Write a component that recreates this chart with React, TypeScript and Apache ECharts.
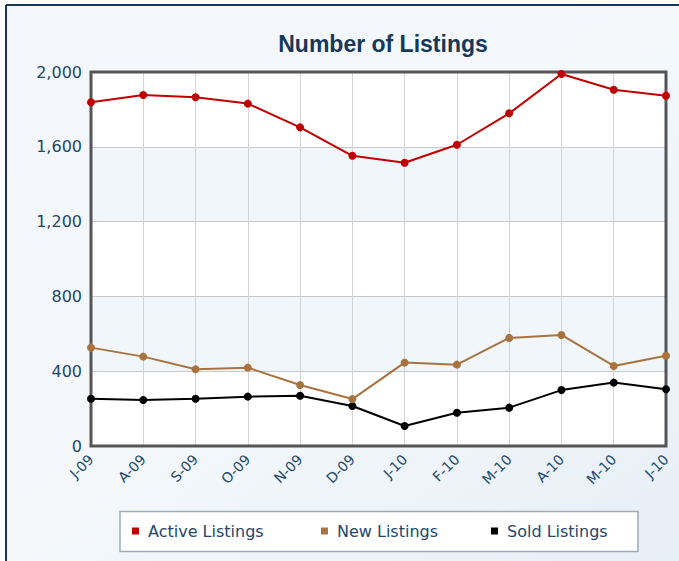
import React, { useEffect, useRef } from "react";
import * as echarts from "echarts";

const categories = ["J-09", "A-09", "S-09", "O-09", "N-09", "D-09", "J-10", "F-10", "M-10", "A-10", "M-10", "J-10"];
const activeListings = [1838, 1877, 1865, 1831, 1704, 1552, 1515, 1611, 1779, 1989, 1905, 1873];
const newListings = [526, 478, 410, 419, 326, 251, 446, 435, 578, 594, 428, 483];
const soldListings = [253, 246, 253, 264, 269, 214, 107, 178, 205, 299, 339, 303];
const seriesNames = ["Active Listings", "New Listings", "Sold Listings"];
const seriesColors = ["#c00000", "#a8733f", "#000000"];

const LABEL_COLOR = "#22476a";
const FONT = "DejaVu Sans, Verdana, sans-serif";

export default function App() {
  const ref = useRef<HTMLDivElement>(null);
  useEffect(() => {
    if (!ref.current) return;
    const chart = echarts.init(ref.current, null, { renderer: "svg" });
    const seriesData = [activeListings, newListings, soldListings];
    const legendLefts = [132, 321, 491];
    chart.setOption({
      animation: false,
      backgroundColor: "#ffffff",
      graphic: [
        {
          type: "rect",
          shape: { x: 6, y: 5, width: 679, height: 561 },
          style: {
            fill: new echarts.graphic.LinearGradient(0, 0, 1, 1, [
              { offset: 0, color: "#f3f7fb" },
              { offset: 0.5, color: "#f4f8fb" },
              { offset: 1, color: "#e6eef6" },
            ]),
          },
          z: -10,
        },
        { type: "line", shape: { x1: 6, y1: 5, x2: 679, y2: 5 }, style: { stroke: "#17385a", lineWidth: 2 }, z: -5 },
        { type: "line", shape: { x1: 6, y1: 5, x2: 6, y2: 561 }, style: { stroke: "#17385a", lineWidth: 2 }, z: -5 },
        {
          type: "rect",
          shape: { x: 120, y: 511.5, width: 518, height: 40 },
          style: { fill: "#ffffff", stroke: "#9aabbd", lineWidth: 1.5 },
          z: -4,
        },
        {
          type: "rect",
          shape: { x: 91, y: 72, width: 575, height: 374 },
          style: { fill: "none", stroke: "#555555", lineWidth: 3 },
          z: 1,
        },
      ],
      title: {
        text: "Number of Listings",
        left: 378,
        top: 27,
        textAlign: "center",
        textStyle: {
          fontFamily: "Liberation Sans, Arial, sans-serif",
          fontWeight: "bold",
          fontSize: 23,
          color: "#17385a",
        },
      },
      legend: seriesNames.map((n, i) => ({
        data: [n],
        left: legendLefts[i],
        top: 523,
        icon: "rect",
        itemWidth: 7,
        itemHeight: 7,
        padding: 0,
        selectedMode: false,
        textStyle: { fontFamily: FONT, fontSize: 16, color: LABEL_COLOR, padding: [0, 0, 0, 4] },
      })),
      grid: {
        left: 91,
        right: 13,
        top: 72,
        bottom: 115,
        show: true,
        borderWidth: 0,
        backgroundColor: "#ffffff",
      },
      xAxis: {
        type: "category",
        data: categories,
        boundaryGap: false,
        axisLine: { show: false },
        axisTick: { show: false },
        splitLine: { show: true, lineStyle: { color: "#d4d4d4", width: 1 } },
        axisLabel: {
          rotate: 45,
          margin: 11,
          interval: 0,
          fontFamily: FONT,
          fontSize: 14,
          color: LABEL_COLOR,
        },
      },
      yAxis: {
        type: "value",
        min: 0,
        max: 2000,
        interval: 400,
        axisLine: { show: false },
        axisTick: { show: false },
        splitLine: { show: true, lineStyle: { color: "#c8c8c8", width: 1 } },
        splitArea: { show: true, areaStyle: { color: ["#ffffff", "#f1f6fa"] } },
        axisLabel: {
          margin: 9,
          fontFamily: FONT,
          fontSize: 16,
          color: LABEL_COLOR,
          formatter: (v: number) => v.toLocaleString("en-US"),
        },
      },
      series: seriesNames.map((n, i) => ({
        name: n,
        type: "line",
        data: seriesData[i],
        symbol: "circle",
        symbolSize: 8,
        color: seriesColors[i],
        lineStyle: { color: seriesColors[i], width: 2 },
        itemStyle: { color: seriesColors[i] },
        z: 10 - i,
      })),
    });
    return () => chart.dispose();
  }, []);
  return <div ref={ref} style={{ width: 679, height: 561, position: "absolute", left: 0, top: 0 }} />;
}
